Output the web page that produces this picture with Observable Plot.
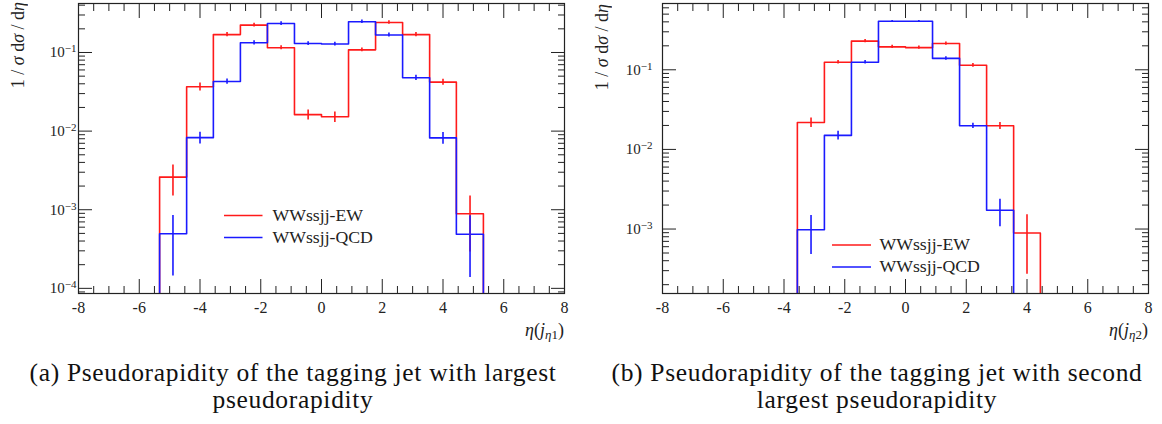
<!DOCTYPE html>
<html><head><meta charset="utf-8">
<script src="https://cdn.jsdelivr.net/npm/d3@7"></script>
<script src="https://cdn.jsdelivr.net/npm/@observablehq/plot@0.6"></script>
<style>
body{margin:0;background:#fff;font-family:"Liberation Serif",serif;color:#222}
#wrap{position:relative;width:1162px;height:424px;overflow:hidden}
.fig{position:absolute;top:0}
.ylab{position:absolute;writing-mode:vertical-rl;transform:rotate(180deg);font-size:18px;white-space:nowrap;line-height:1}
.xlab{position:absolute;font-size:18px;white-space:nowrap;line-height:1}
.xlab sub{font-size:13px;vertical-align:-3px}
.legtx{position:absolute;white-space:nowrap;line-height:1;transform:translateY(-50%)}
.cap{position:absolute;text-align:center;color:#111;white-space:nowrap}
</style></head>
<body><div id="wrap"></div>
<script>
// ---- data ----
const edges = [-5.33,-4.44,-3.56,-2.67,-1.78,-0.89,0,0.89,1.78,2.67,3.56,4.44,5.33];
const centers = [-4.89,-4,-3.11,-2.22,-1.33,-0.44,0.44,1.33,2.22,3.11,4,4.89];
const seriesNames = ["WWssjj-EW","WWssjj-QCD"];
// panel (a): tagging jet with largest pseudorapidity
const ewA     = [2.6e-3,0.0366,0.169,0.223,0.115,0.0162,0.0152,0.108,0.241,0.169,0.042,8.9e-4];
const ewAErr  = [1.1e-3,0.0042,0.010,0.012,0.007,0.0024,0.0023,0.006,0.013,0.010,0.0038,6e-4];
const qcdA    = [4.94e-4,8.26e-3,0.0428,0.133,0.234,0.130,0.128,0.246,0.167,0.0477,8.2e-3,4.87e-4];
const qcdAErr = [3.5e-4,1.4e-3,0.0033,0.008,0.013,0.007,0.007,0.013,0.010,0.0038,1.4e-3,3.5e-4];
// panel (b): tagging jet with second largest pseudorapidity
const ewB     = [0,0,0.0218,0.1245,0.229,0.194,0.190,0.214,0.114,0.0198,8.9e-4,0];
const ewBErr  = [0,0,0.003,0.006,0.011,0.009,0.009,0.010,0.006,0.002,6.2e-4,0];
const qcdB    = [0,0,9.8e-4,0.015,0.1245,0.407,0.407,0.139,0.0198,1.72e-3,0,0];
const qcdBErr = [0,0,5e-4,0.0019,0.006,0.010,0.010,0.007,0.0015,6.5e-4,0,0];
const xMajor = [-8,-6,-4,-2,0,2,4,6,8];
const yDecades = [1e-4,1e-3,1e-2,1e-1,1];
const captionLines = [["(a) Pseudorapidity of the tagging jet with largest","pseudorapidity"],
                      ["(b) Pseudorapidity of the tagging jet with second","largest pseudorapidity"]];
const xLabelSub = ["1","2"];
const RED = "#ff1a1a", BLUE = "#1a1aff", INK = "#222";
const FONT = "Liberation Serif";

const ctx = document.createElement("canvas").getContext("2d");
function textWidth(text, size){ ctx.font = `${size}px "${FONT}"`; return ctx.measureText(text).width; }
function fitSize(text, target){ return 100*target/textWidth(text,100); }

function stepPoints(vals, ymin){
  const idx = vals.map((v,i)=>v>0?i:-1).filter(i=>i>=0);
  const a = idx[0], b = idx[idx.length-1];
  const pts = [{x:edges[a], y:ymin}];
  for (let i=a;i<=b;i++) pts.push({x:edges[i],y:vals[i]},{x:edges[i+1],y:vals[i]});
  pts.push({x:edges[b+1], y:ymin});
  return pts;
}
function errs(vals, e){
  return vals.map((v,i)=>({x:centers[i], y1:v-e[i], y2:v+e[i], v})).filter(d=>d.v>0);
}

function panel(o){
  const [y0,y1] = o.ydom;
  const xMinor = d3.range(-8,8.001,0.5).filter(v=>Math.abs(v%2)>1e-9);
  const yMinor = [];
  for (const d of yDecades) for (let k=2;k<=9;k++){ const v=d*k/10; if(v>=y0&&v<=y1) yMinor.push(v); }
  const yMaj = yDecades.filter(v=>v>=y0&&v<=y1);
  const tickF = ()=>"";
  const common = {stroke:INK, strokeWidth:1, label:null};
  return Plot.plot({
    width:o.width, height:345, marginLeft:o.ml, marginRight:o.mr, marginTop:3, marginBottom:52,
    x:{domain:[-8,8]}, y:{type:"log", domain:o.ydom},
    style:{fontFamily:`"${FONT}", serif`, fontSize:"16px", color:INK, background:"transparent", overflow:"visible"},
    marks:[
      Plot.line(stepPoints(o.ew,y0),{x:"x",y:"y",stroke:RED,strokeWidth:1.6,clip:true}),
      Plot.line(stepPoints(o.qcd,y0),{x:"x",y:"y",stroke:BLUE,strokeWidth:1.6,clip:true}),
      Plot.ruleX(errs(o.ew,o.ewErr),{x:"x",y1:"y1",y2:"y2",stroke:RED,strokeWidth:1.6,clip:true}),
      Plot.ruleX(errs(o.qcd,o.qcdErr),{x:"x",y1:"y1",y2:"y2",stroke:BLUE,strokeWidth:1.6,clip:true}),
      Plot.frame({stroke:INK, strokeWidth:1.2}),
      Plot.axisX({anchor:"bottom", ticks:xMajor, tickSize:14, dy:-14, tickFormat:tickF, ...common}),
      Plot.axisX({anchor:"bottom", ticks:xMinor, tickSize:7, dy:-7, tickFormat:tickF, ...common}),
      Plot.axisX({anchor:"top", ticks:xMajor, tickSize:14, dy:14, tickFormat:tickF, ...common}),
      Plot.axisX({anchor:"top", ticks:xMinor, tickSize:7, dy:7, tickFormat:tickF, ...common}),
      Plot.axisX({anchor:"bottom", ticks:xMajor, tickSize:0, tickPadding:8, tickFormat:d=>String(d), label:null}),
      Plot.axisY({anchor:"left", ticks:yMaj, tickSize:14, dx:14, tickFormat:tickF, ...common}),
      Plot.axisY({anchor:"left", ticks:yMinor, tickSize:7, dx:7, tickFormat:tickF, ...common}),
      Plot.axisY({anchor:"right", ticks:yMaj, tickSize:14, dx:-14, tickFormat:tickF, ...common}),
      Plot.axisY({anchor:"right", ticks:yMinor, tickSize:7, dx:-7, tickFormat:tickF, ...common}),
      Plot.axisY({anchor:"left", ticks:yMaj, tickSize:0, tickPadding:o.ypad, fontSize:15, tickFormat:d=>"10^"+Math.round(Math.log10(d)), label:null})
    ]
  });
}

const wrap = document.getElementById("wrap");
const SVGNS = "http://www.w3.org/2000/svg";
const legSize = fitSize(seriesNames[1], 100.5);
const cfgs = [
  {left:0, width:580, ml:78, mr:16, ydom:[8.6e-5,0.42], ew:ewA, ewErr:ewAErr, qcd:qcdA, qcdErr:qcdAErr, ypad:2,
   ylab:{x:9,y:2}, xlab:{right:16,top:321}, leg:{x1:224,x2:262.5,tx:272.5,y:[215.5,237.5]}, capCenter:293},
  {left:580, width:582, ml:82, mr:14, ydom:[1.55e-4,0.68], ew:ewB, ewErr:ewBErr, qcd:qcdB, qcdErr:qcdBErr, ypad:10,
   ylab:{x:13,y:4}, xlab:{right:14,top:321}, leg:{x1:252,x2:291,tx:299.5,y:[245,267]}, capCenter:297}
];
cfgs.forEach((c,k)=>{
  const fig = document.createElement("div");
  fig.className="fig"; fig.style.left=c.left+"px"; fig.style.width=c.width+"px"; fig.style.height="345px";
  const svg = panel(c);
  svg.style.position="absolute"; svg.style.left="0"; svg.style.top="0";
  fig.appendChild(svg);
  svg.querySelectorAll("text").forEach(t=>{
    const s = t.textContent;
    if (s.startsWith("10^")) {
      const e = s.slice(3).replace("-","\u2212");
      t.textContent = "10";
      const ts = document.createElementNS(SVGNS,"tspan");
      ts.setAttribute("dy","-0.45em"); ts.setAttribute("font-size","11px"); ts.textContent = e;
      t.appendChild(ts);
    }
  });
  const g = document.createElementNS(SVGNS,"g");
  [RED,BLUE].forEach((col,i)=>{
    const l = document.createElementNS(SVGNS,"line");
    l.setAttribute("x1",c.leg.x1); l.setAttribute("x2",c.leg.x2);
    l.setAttribute("y1",c.leg.y[i]); l.setAttribute("y2",c.leg.y[i]);
    l.setAttribute("stroke",col); l.setAttribute("stroke-width","1.6");
    g.appendChild(l);
  });
  svg.appendChild(g);
  seriesNames.forEach((n,i)=>{
    const tx=document.createElement("div"); tx.className="legtx";
    tx.style.left=c.leg.tx+"px"; tx.style.top=c.leg.y[i]+"px"; tx.style.fontSize=legSize+"px"; tx.textContent=n;
    fig.appendChild(tx);
  });
  const yl = document.createElement("div"); yl.className="ylab";
  yl.style.left=c.ylab.x+"px"; yl.style.top=c.ylab.y+"px";
  yl.innerHTML = "1 / <i>σ</i> d<i>σ</i> / d<i>η</i>";
  fig.appendChild(yl);
  const xl = document.createElement("div"); xl.className="xlab";
  xl.style.right=c.xlab.right+"px"; xl.style.top=c.xlab.top+"px";
  xl.innerHTML = "<i>η</i>(<i>j</i><sub><i>η</i>"+xLabelSub[k]+"</sub>)";
  fig.appendChild(xl);
  wrap.appendChild(fig);
});
// captions: 25.5px font, letter-spacing so that line 1 spans ~527px
const CAP = 25.5;
const ls = (527 - textWidth(captionLines[0][0], CAP)) / captionLines[0][0].length;
cfgs.forEach((c,k)=>{
  captionLines[k].forEach((line,j)=>{
    const cap = document.createElement("div"); cap.className="cap";
    cap.style.fontSize = CAP+"px"; cap.style.lineHeight = CAP+"px";
    cap.style.letterSpacing = ls+"px";
    cap.style.left=(c.left+c.capCenter-300)+"px"; cap.style.width="600px";
    cap.style.top=(360 + 27*j)+"px";
    cap.textContent = line;
    wrap.appendChild(cap);
  });
});
</script></body></html>
